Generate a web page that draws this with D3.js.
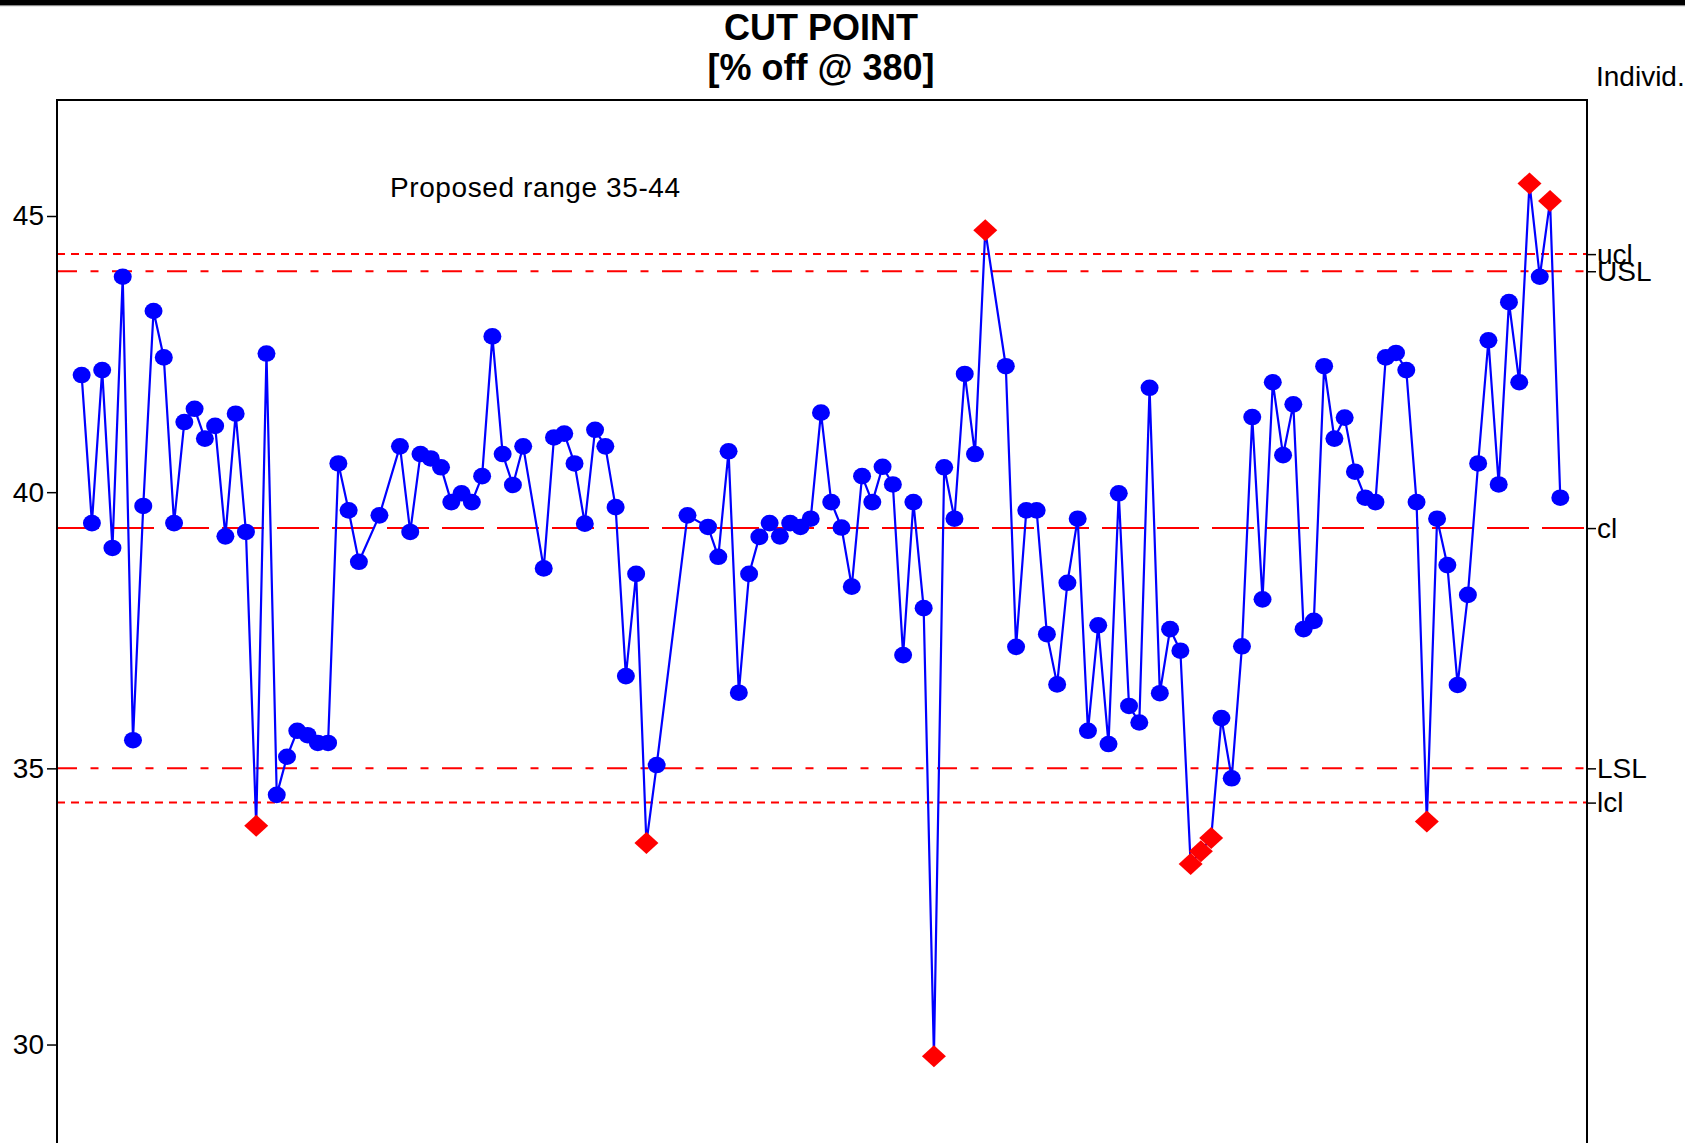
<!DOCTYPE html>
<html>
<head>
<meta charset="utf-8">
<script src="https://cdn.jsdelivr.net/npm/d3@7"></script>
<style>
  html, body { margin: 0; padding: 0; background: #fff; }
  svg { display: block; font-family: "Liberation Sans", Arial, sans-serif; }
</style>
</head>
<body>
<script>
// ---------------- data ----------------
const titleLines = ["CUT POINT", "[% off @ 380]"];
const chartTag = "Individ.";
const note = "Proposed range 35-44";

const sampleNo = [
  0,1,2,3,4,5,6,7,8,9,10,11,12,13,14,15,16,17,18,19,20,21,22,23,24,25,26,27,
  29,31,32,33,34,35,36,37,38,39,40,41,42,43,45,46,47,48,49,50,51,52,53,54,55,56,
  59,61,62,63,64,65,66,67,68,69,70,71,72,73,74,75,76,77,78,79,80,81,82,83,84,85,86,87,88,
  90,91,92,93,94,95,96,97,98,99,100,101,102,103,104,105,106,107,108,109,110,111,112,113,114,
  115,116,117,118,119,120,121,122,123,124,125,126,127,128,129,130,131,132,133,134,135,136,
  137,138,139,140,141,142,143,144
];
const cutPoint = [
  42.12,39.44,42.21,38.99,43.90,35.51,39.75,43.28,42.44,39.44,41.27,41.51,40.97,41.20,39.20,41.42,39.28,33.96,42.51,34.52,35.21,35.68,35.60,35.46,35.46,40.52,39.67,38.74,
  39.58,40.83,39.28,40.69,40.61,40.45,39.82,39.98,39.82,40.29,42.82,40.69,40.13,40.83,38.62,40.99,41.06,40.52,39.43,41.13,40.83,39.73,36.67,38.52,33.65,35.06,
  39.58,39.37,38.83,40.74,36.37,38.52,39.19,39.44,39.20,39.44,39.37,39.52,41.44,39.82,39.36,38.29,40.29,39.82,40.46,40.14,37.05,39.82,37.90,29.79,40.45,39.52,42.14,40.69,44.74,
  42.28,37.20,39.67,39.67,37.43,36.52,38.36,39.52,35.68,37.59,35.44,39.98,36.13,35.83,41.89,36.36,37.52,37.13,33.27,33.50,33.74,35.91,34.82,37.21,41.36,
  38.06,41.99,40.67,41.59,37.52,37.67,42.28,40.97,41.35,40.37,39.90,39.82,42.44,42.52,42.21,39.82,34.04,39.52,38.68,36.51,38.14,40.52,
  42.75,40.14,43.44,41.99,45.59,43.90,45.27,39.90
];

const limitNames  = ["ucl", "USL", "cl", "LSL", "lcl"];
const limitValues = [44.31, 44.00, 39.35, 35.00, 34.38];
const yTicks = [30, 35, 40, 45];

// ---------------- layout ----------------
const W = 1685, H = 1143;
const plot = { left: 57, right: 1587, top: 100, bottom: 1160 };

const svg = d3.select("body").append("svg").attr("width", W).attr("height", H);

const x = d3.scaleLinear().domain([-2.4, 146.6]).range([plot.left, plot.right]);
const y = d3.scaleLinear().domain([28.0, 47.1]).range([1155, plot.top]);

// top black band
svg.append("rect").attr("x", 0).attr("y", 0).attr("width", W).attr("height", 5).attr("fill", "#000");
svg.append("rect").attr("x", 0).attr("y", 5).attr("width", W).attr("height", 1.2).attr("fill", "#888");

// titles
svg.append("text").attr("x", 821).attr("y", 40).attr("text-anchor", "middle")
  .attr("font-size", 36).attr("font-weight", "bold").text(titleLines[0]);
svg.append("text").attr("x", 821).attr("y", 80).attr("text-anchor", "middle")
  .attr("font-size", 36).attr("font-weight", "bold").text(titleLines[1]);
svg.append("text").attr("x", 1596).attr("y", 86)
  .attr("font-size", 28).text(chartTag);

// plot frame
svg.append("rect")
  .attr("x", plot.left).attr("y", plot.top)
  .attr("width", plot.right - plot.left).attr("height", plot.bottom - plot.top)
  .attr("fill", "#fff").attr("stroke", "#000").attr("stroke-width", 2);

// clip
svg.append("clipPath").attr("id", "clip").append("rect")
  .attr("x", plot.left + 1).attr("y", plot.top + 1)
  .attr("width", plot.right - plot.left - 2).attr("height", plot.bottom - plot.top - 2);

// y axis
const yAxis = d3.axisLeft(y).tickValues(yTicks).tickSize(10).tickPadding(3).tickFormat(d3.format("d"));
const gy = svg.append("g").attr("transform", `translate(${plot.left},0)`).call(yAxis);
gy.select(".domain").remove();
gy.selectAll(".tick line").attr("stroke", "#000").attr("stroke-width", 1.5);
gy.selectAll(".tick text").attr("font-size", 28).attr("fill", "#000")
  .attr("font-family", "'Liberation Sans', Arial, sans-serif");

// limit lines
const limitDash = { ucl: "8,6", USL: "20,13.5,8,13.5", cl: "42,13", LSL: "20,13.5,8,13.5", lcl: "8,6" };
const limits = limitNames.map((n, i) => ({ name: n, value: limitValues[i] }));
const gl = svg.append("g").attr("clip-path", "url(#clip)");
gl.selectAll("line").data(limits).enter().append("line")
  .attr("x1", plot.left).attr("x2", plot.right)
  .attr("y1", d => y(d.value)).attr("y2", d => y(d.value))
  .attr("stroke", "#ff0000").attr("stroke-width", 2)
  .attr("stroke-dasharray", d => limitDash[d.name]);

// right-side limit labels (as an axis)
const rAxis = d3.axisRight(y).tickValues(limitValues).tickSize(9).tickPadding(1)
  .tickFormat((d, i) => limitNames[i]);
const gr = svg.append("g").attr("transform", `translate(${plot.right},0)`).call(rAxis);
gr.select(".domain").remove();
gr.selectAll(".tick line").attr("stroke", "#000").attr("stroke-width", 1.5);
gr.selectAll(".tick text").attr("font-size", 28).attr("fill", "#000")
  .attr("font-family", "'Liberation Sans', Arial, sans-serif");

// note
svg.append("text").attr("x", 390).attr("y", 197).attr("font-size", 28).attr("letter-spacing", 0.6).text(note);

// series
const pts = sampleNo.map((s, i) => ({ s, v: cutPoint[i] }));
const ucl = limitValues[0], lcl = limitValues[4];
const out = d => d.v > ucl || d.v < lcl;

const gd = svg.append("g").attr("clip-path", "url(#clip)");
gd.append("path").datum(pts)
  .attr("fill", "none").attr("stroke", "#0000ff").attr("stroke-width", 2.2)
  .attr("stroke-linejoin", "round")
  .attr("d", d3.line().x(d => x(d.s)).y(d => y(d.v)));

gd.selectAll("ellipse.pt").data(pts.filter(d => !out(d))).enter().append("ellipse")
  .attr("class", "pt")
  .attr("cx", d => x(d.s)).attr("cy", d => y(d.v))
  .attr("rx", 9).attr("ry", 8.3).attr("fill", "#0000ff");

const diamond = (cx, cy, hw, hh) => `M${cx},${cy - hh}L${cx + hw},${cy}L${cx},${cy + hh}L${cx - hw},${cy}Z`;
gd.selectAll("path.dm").data(pts.filter(out)).enter().append("path")
  .attr("class", "dm")
  .attr("d", d => diamond(x(d.s), y(d.v), 12, 11))
  .attr("fill", "#ff0000");
</script>
</body>
</html>
